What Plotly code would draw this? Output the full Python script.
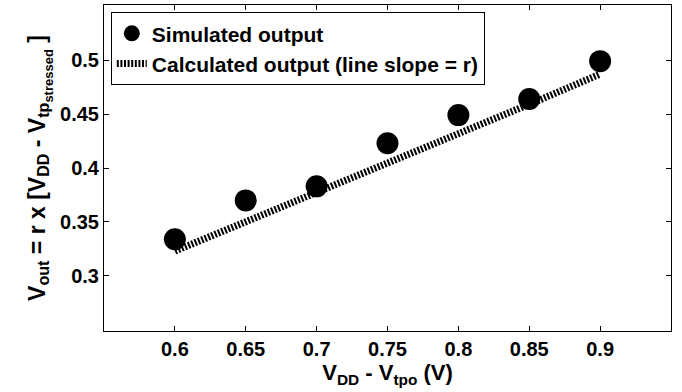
import plotly.graph_objects as go

x_vals = [0.6, 0.65, 0.7, 0.75, 0.8, 0.85, 0.9]
simulated = [0.334, 0.370, 0.383, 0.423, 0.449, 0.464, 0.499]
calculated = [0.323, 0.350, 0.378, 0.405, 0.432, 0.459, 0.487]
x_ticks = [0.6, 0.65, 0.7, 0.75, 0.8, 0.85, 0.9]
x_tick_labels = ["0.6", "0.65", "0.7", "0.75", "0.8", "0.85", "0.9"]
y_ticks = [0.3, 0.35, 0.4, 0.45, 0.5]
y_tick_labels = ["0.3", "0.35", "0.4", "0.45", "0.5"]

font_family = "Liberation Sans Narrow, Arial Narrow, Liberation Sans, sans-serif"

fig = go.Figure()
fig.add_trace(go.Scatter(
    x=x_vals, y=calculated, mode="lines",
    name="<b>Calculated output (line slope = r)</b>",
    line=dict(color="black", width=7, dash="2px,1.6px"),
))
fig.add_trace(go.Scatter(
    x=x_vals, y=simulated, mode="markers",
    name="<b>Simulated output</b>",
    marker=dict(color="black", size=22, symbol="circle"),
))

axis_common = dict(
    showgrid=False, zeroline=False, showline=True, linecolor="black", linewidth=1,
    mirror="ticks", ticks="inside", ticklen=5, tickcolor="black",
    tickfont=dict(family=font_family, size=20, color="black"),
)

fig.update_layout(
    width=682, height=392,
    margin=dict(l=104, r=11, t=5, b=61),
    paper_bgcolor="white", plot_bgcolor="white",
    font=dict(family=font_family, color="black"),
    showlegend=True,
    legend=dict(
        x=0.012, y=0.978, xanchor="left", yanchor="top",
        bordercolor="black", borderwidth=1, bgcolor="white",
        font=dict(family=font_family, size=21, color="black"),
        traceorder="reversed", itemwidth=30, tracegroupgap=0,
        itemsizing="trace",
    ),
    xaxis=dict(
        range=[0.55, 0.95], tickvals=x_ticks, ticktext=["<b>%s</b>" % t for t in x_tick_labels],
        title=dict(text="<b>V<sub>DD</sub> - V<sub>tpo</sub> (V)</b>", font=dict(family=font_family, size=22), standoff=4),
        **axis_common,
    ),
    yaxis=dict(
        range=[0.249, 0.551], tickvals=y_ticks, ticktext=["<b>%s</b>" % t for t in y_tick_labels],
        title=dict(text="<b>V<sub>out</sub> = r x [V<sub>DD</sub> - V<sub>tp<sub><span style='font-size:13px'>stressed</span></sub></sub> ]</b>",
                   font=dict(family=font_family, size=23), standoff=8),
        **axis_common,
    ),
)

fig.write_html("out.html")
